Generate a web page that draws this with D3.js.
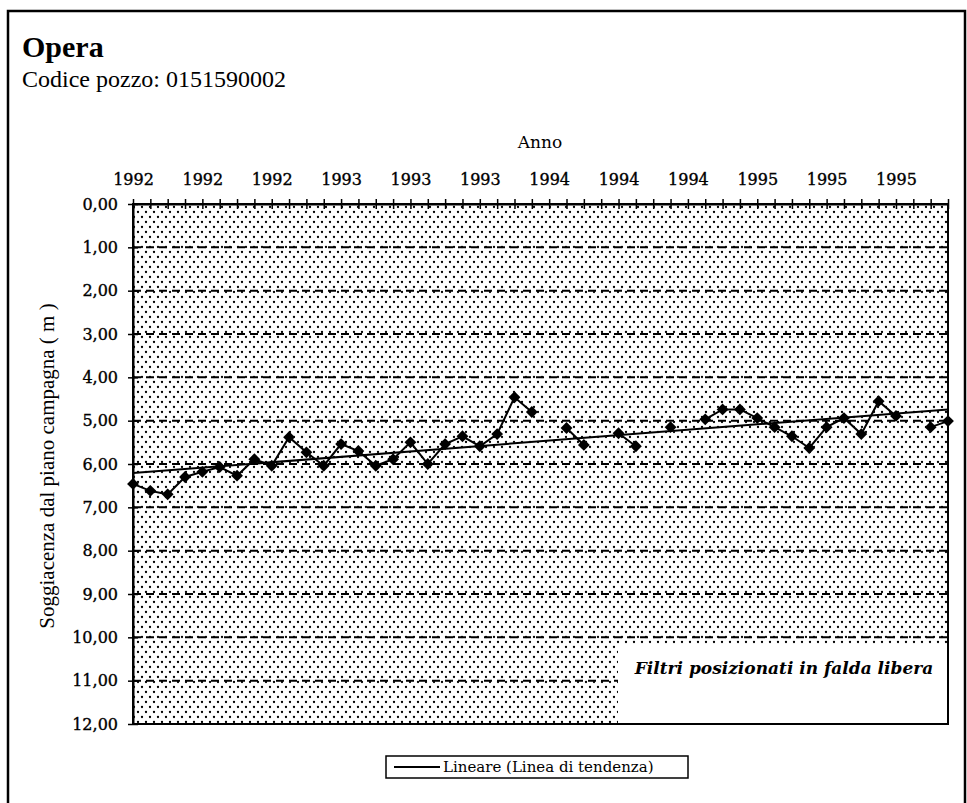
<!DOCTYPE html>
<html>
<head>
<meta charset="utf-8">
<script src="https://cdn.jsdelivr.net/npm/d3@7"></script>
<style>
body { margin: 0; background: #fff; }
text { fill: #000; }
.tick text { stroke: #000; stroke-width: 0.35px; }
</style>
</head>
<body>
<script>
var w = 967;
var h = 803;

// monthly readings, Jan 1992 .. Dec 1995 (null = no reading)
var depth = [6.46, 6.62, 6.70, 6.30, 6.18, 6.07, 6.27, 5.89, 6.04, 5.38, 5.73, 6.04,
	5.54, 5.70, 6.04, 5.89, 5.50, 6.00, 5.54, 5.36, 5.59, 5.31, 4.46, 4.80,
	null, 5.17, 5.56, null, 5.29, 5.59, null, 5.15, null, 4.97, 4.74, 4.74,
	4.94, 5.15, 5.36, 5.63, 5.15, 4.94, 5.31, 4.55, 4.89, null, 5.15, 5.01];
var yearLabels = ['1992', '1992', '1992', '1993', '1993', '1993', '1994', '1994', '1994', '1995', '1995', '1995'];
var yTicks = [0, 1, 2, 3, 4, 5, 6, 7, 8, 9, 10, 11, 12];
var yTickLabels = ['0,00', '1,00', '2,00', '3,00', '4,00', '5,00', '6,00', '7,00', '8,00', '9,00', '10,00', '11,00', '12,00'];
var gridValues = [1, 2, 3, 4, 5, 6, 7, 8, 9, 10, 11];

var pLeft = 133, pRight = 948, pTop = 204, pBottom = 724;

var svg = d3.select('body')
	.append('svg')
	.attr('width', w)
	.attr('height', h);

var defs = svg.append('defs');
var pat = defs.append('pattern')
	.attr('id', 'dots')
	.attr('patternUnits', 'userSpaceOnUse')
	.attr('width', 8)
	.attr('height', 10);
pat.append('rect').attr('width', 8).attr('height', 10).attr('fill', '#fff');
pat.append('circle').attr('cx', 2).attr('cy', 2).attr('r', 1.15).attr('fill', '#000');
pat.append('circle').attr('cx', 6).attr('cy', 7).attr('r', 1.15).attr('fill', '#000');

// outer frame
svg.append('rect')
	.attr('x', 8).attr('y', 11)
	.attr('width', 957).attr('height', 800)
	.attr('fill', 'none')
	.attr('stroke', '#000')
	.attr('stroke-width', 2.5);

svg.append('text')
	.attr('x', 22).attr('y', 57)
	.style('font', 'bold 30px "Liberation Serif"')
	.text('Opera');
svg.append('text')
	.attr('x', 22).attr('y', 87)
	.style('font', '24px "Liberation Serif"')
	.text('Codice pozzo: 0151590002');

var x = d3.scalePoint()
	.domain(d3.range(depth.length))
	.range([pLeft, pRight]);
var y = d3.scaleLinear()
	.domain([0, 12])
	.range([pTop, pBottom]);

// plot area
svg.append('rect')
	.attr('x', pLeft).attr('y', pTop)
	.attr('width', pRight - pLeft).attr('height', pBottom - pTop)
	.attr('fill', 'url(#dots)');

svg.append('g')
	.selectAll('line')
	.data(gridValues)
	.enter()
	.append('line')
	.attr('x1', pLeft).attr('x2', pRight)
	.attr('y1', function(d) { return y(d); })
	.attr('y2', function(d) { return y(d); })
	.attr('stroke', '#000')
	.attr('stroke-width', 2)
	.attr('stroke-dasharray', '8,5');

// annotation box
svg.append('rect')
	.attr('x', 618).attr('y', 645)
	.attr('width', pRight - 618).attr('height', pBottom - 645)
	.attr('fill', '#fff');
svg.append('text')
	.attr('x', 784).attr('y', 674)
	.attr('text-anchor', 'middle')
	.style('font', 'italic bold 17px "DejaVu Serif"')
	.text('Filtri posizionati in falda libera');

// trend line (least squares on readings)
var pts = [];
depth.forEach(function(d, i) { if (d != null) pts.push([i, d]); });
var mx = d3.mean(pts, function(p) { return p[0]; });
var my = d3.mean(pts, function(p) { return p[1]; });
var slope = d3.sum(pts, function(p) { return (p[0] - mx) * (p[1] - my); }) /
	d3.sum(pts, function(p) { return (p[0] - mx) * (p[0] - mx); });
var icpt = my - slope * mx;
var trend = [0, depth.length - 1].map(function(i) { return [i, icpt + slope * i]; });

svg.append('path')
	.datum(trend)
	.attr('fill', 'none')
	.attr('stroke', '#000')
	.attr('stroke-width', 2)
	.attr('d', d3.line()
		.x(function(d) { return x(d[0]); })
		.y(function(d) { return y(d[1]); }));

svg.append('path')
	.datum(depth)
	.attr('fill', 'none')
	.attr('stroke', '#000')
	.attr('stroke-width', 2)
	.attr('d', d3.line()
		.defined(function(d) { return d != null; })
		.x(function(d, i) { return x(i); })
		.y(function(d) { return y(d); }));

svg.append('g')
	.selectAll('path')
	.data(pts)
	.enter()
	.append('path')
	.attr('d', d3.symbol().type(d3.symbolSquare).size(70))
	.attr('transform', function(d) { return 'translate(' + x(d[0]) + ',' + y(d[1]) + ') rotate(45)'; })
	.attr('fill', '#000');

// axes
var xAxis = svg.append('g')
	.attr('transform', 'translate(0,' + pTop + ')')
	.call(d3.axisTop(x)
		.tickSizeInner(5)
		.tickSizeOuter(0)
		.tickPadding(14)
		.tickFormat(function(i) { return i % 4 === 0 ? yearLabels[i / 4] : ''; }));
xAxis.selectAll('.tick line').attr('y1', 5).attr('stroke-width', 1.5);
xAxis.select('.domain').attr('stroke-width', 2);
xAxis.selectAll('text').style('font', '16px "DejaVu Serif"');

var yAxis = svg.append('g')
	.attr('transform', 'translate(' + pLeft + ',0)')
	.call(d3.axisLeft(y)
		.tickValues(yTicks)
		.tickSizeInner(5)
		.tickSizeOuter(0)
		.tickPadding(10)
		.tickFormat(function(d, i) { return yTickLabels[i]; }));
yAxis.selectAll('.tick line').attr('x1', 5).attr('stroke-width', 1.5);
yAxis.select('.domain').attr('stroke-width', 2);
yAxis.selectAll('text').style('font', '16px "DejaVu Serif"');

// plot border
svg.append('rect')
	.attr('x', pLeft).attr('y', pTop)
	.attr('width', pRight - pLeft).attr('height', pBottom - pTop)
	.attr('fill', 'none')
	.attr('stroke', '#000')
	.attr('stroke-width', 2);

svg.append('text')
	.attr('x', 540).attr('y', 148)
	.attr('text-anchor', 'middle')
	.style('font', '17px "DejaVu Serif"')
	.text('Anno');

svg.append('text')
	.attr('transform', 'translate(54,466) rotate(-90)')
	.attr('text-anchor', 'middle')
	.style('font', '21px "Liberation Serif"')
	.text('Soggiacenza dal piano campagna ( m )');

// legend
var lg = svg.append('g');
lg.append('rect')
	.attr('x', 386).attr('y', 756)
	.attr('width', 302).attr('height', 22)
	.attr('fill', '#fff')
	.attr('stroke', '#000')
	.attr('stroke-width', 1.5);
lg.append('line')
	.attr('x1', 394).attr('x2', 440)
	.attr('y1', 767).attr('y2', 767)
	.attr('stroke', '#000')
	.attr('stroke-width', 2);
lg.append('text')
	.attr('x', 443).attr('y', 772)
	.style('font', '15px "DejaVu Serif"')
	.text('Lineare (Linea di tendenza)');
</script>
</body>
</html>
